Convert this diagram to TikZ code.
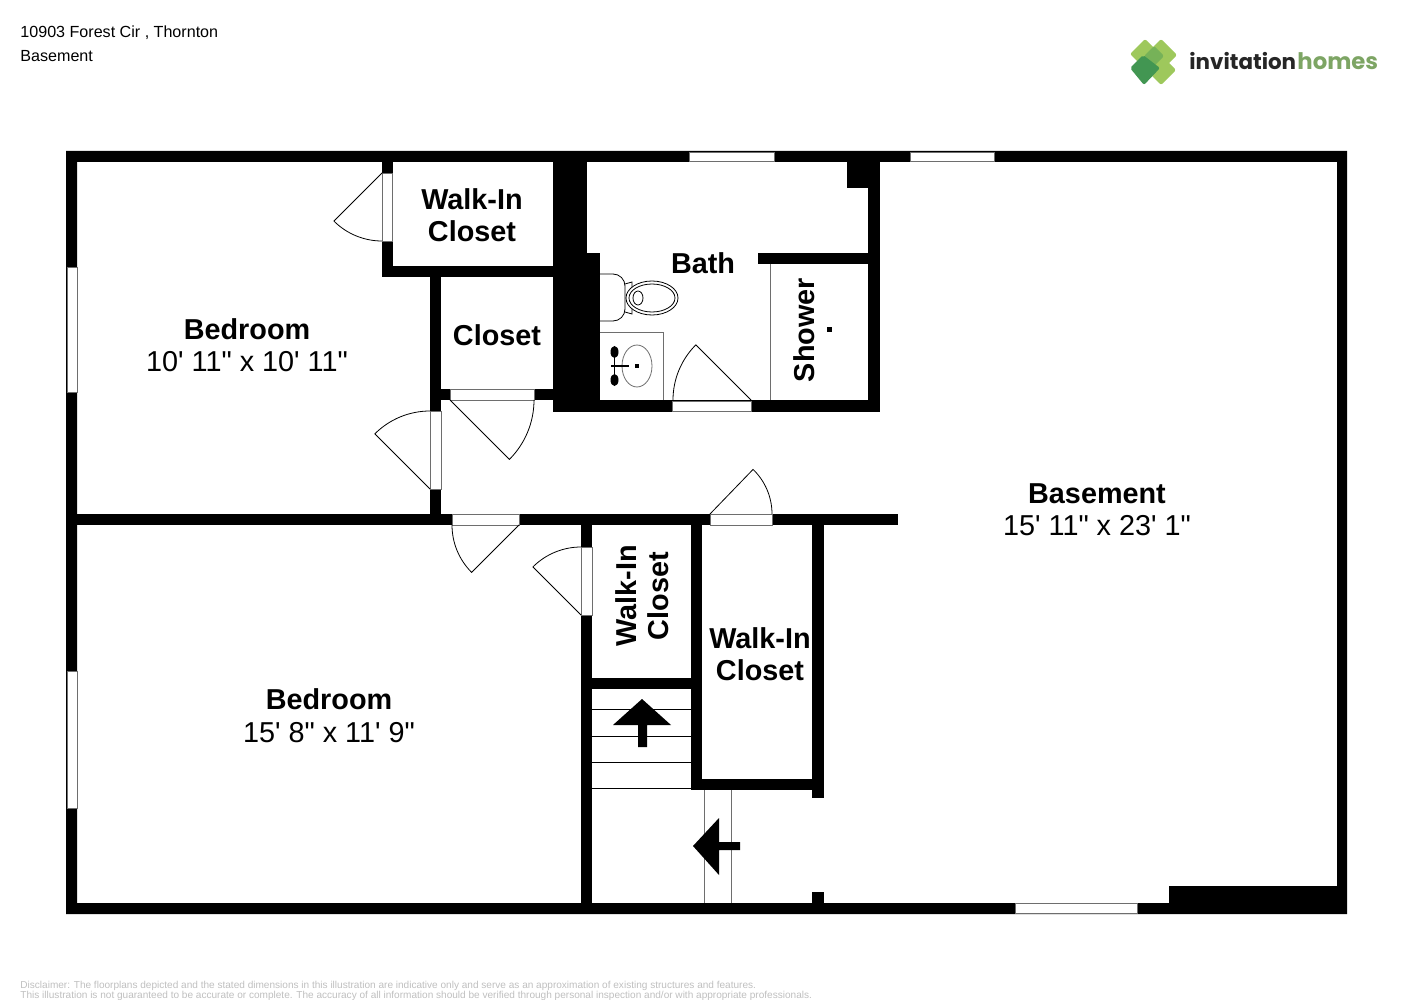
\documentclass[tikz,border=0pt]{standalone}
\usepackage{fontspec}
\newfontfamily\planfont{Liberation Sans}
\newfontfamily\logofont{Poppins}
\definecolor{logolight}{RGB}{158,200,92}
\definecolor{logomid}{RGB}{118,178,88}
\definecolor{logodark}{RGB}{66,150,82}
\definecolor{logotext}{RGB}{125,165,100}
\definecolor{linegray}{RGB}{110,110,110}
\begin{document}
\begin{tikzpicture}[x=0.5pt,y=-0.5pt,
	wall/.style={fill=black},
	opening/.style={draw=linegray,line width=0.4pt,fill=white},
	thinline/.style={draw=black,line width=0.4pt},
	roomname/.style={inner sep=0,align=center,font=\planfont\bfseries\fontsize{14.4}{16}\selectfont},
	roomsize/.style={inner sep=0,font=\planfont\fontsize{14.4}{16}\selectfont},
	pagetext/.style={inner sep=0,anchor=west,font=\planfont\fontsize{8.05}{10}\selectfont},
	smallprint/.style={inner sep=0,anchor=west,text=black!25,font=\planfont\fontsize{5.03}{6}\selectfont},
	logotype/.style={inner sep=0,anchor=base west,font=\logofont\bfseries\fontsize{10.7}{14}\selectfont}]
	\useasboundingbox (0,0) rectangle (1414,1000);
	% outer walls
	\fill[wall,even odd rule] (66,151) rectangle (1347,914) (77,162) rectangle (1337,903);
	% inner walls
	\foreach \xa/\ya/\xb/\yb in {382/162/393/277, 382/266/553/277, 430/277/441/525,
		441/389/553/400, 553/162/587/412, 553/253/600/412, 553/400/880/412,
		868/162/880/412, 847/162/880/188, 758/253/868/264,
		77/514/898/525, 581/525/592/903, 691/525/702/790, 592/678/691/689,
		691/779/812/790, 812/525/824/798, 812/892/824/903, 1169/886/1337/903}{
		\fill[wall] (\xa,\ya) rectangle (\xb,\yb);
	}
	% windows
	\foreach \xa/\ya/\xb/\yb in {689/152/774/161, 910/152/994/161, 1015/903/1137/913,
		67/267/77/392, 67/671/77/808}{
		\draw[opening] (\xa,\ya) rectangle (\xb,\yb);
	}
	% doors: opening, then hinge, leaf angle, end angle, radius
	\foreach \xa/\ya/\xb/\yb/\hx/\hy/\a/\b/\r in {
		382/173/392/241/382/173/135/90/68,
		430/411/441/489/430/489/225/270/78,
		450/389/534/400/450/400/45/0/84,
		452/514/519/525/519/525/135/180/67,
		581/547/592/615/581/615/225/270/68,
		710/514/772/525/710/514/-46/0/62,
		672/401/751/411/751/400/225/180/78}{
		\draw[opening] (\xa,\ya) rectangle (\xb,\yb);
		\draw[thinline] (\hx,\hy) -- ++(\a:\r) arc (\a:\b:\r);
	}
	% stairs
	\foreach \i in {709,736,762,788}{
		\draw[thinline] (592,\i) -- (691,\i);
	}
	\foreach \i in {704,731}{
		\draw[thinline,draw=linegray] (\i,790) -- (\i,903);
	}
	\fill (642,699) -- (671,725) -- (647,725) -- (647,747) -- (638,747) -- (638,725) -- (613,725) -- cycle;
	\fill (693,846) -- (719,818) -- (719,842) -- (740,842) -- (740,850) -- (719,850) -- (719,875) -- cycle;
	% shower
	\draw[thinline,draw=linegray] (770,264) -- (770,400);
	\fill (826.5,327.5) rectangle (831.5,332.5);
	% toilet
	\draw[thinline,fill=white] (625,312) -- (632,314) -- (632,282) -- (625,284);
	\draw[thinline,fill=white,rounded corners=6] (600,274) -- (625,274) -- (625,321) -- (600,321);
	\draw[thinline,fill=white] (652,298) ellipse (26 and 17);
	\draw[thinline] (652,298) ellipse (23 and 14);
	\draw[thinline] (638,298) ellipse (5 and 7);
	% sink
	\draw[thinline,draw=linegray] (600,332) -- (663,332) -- (663,400);
	\draw[thinline,draw=linegray] (637,366) ellipse (15 and 21);
	\fill (635,364) rectangle (639,368);
	\draw[line width=0.7pt] (614.5,352) -- (614.5,380);
	\draw[line width=0.7pt] (611,366) -- (629,366);
	\foreach \i in {352,380}{
		\fill (614.5,\i) ellipse (4 and 6);
	}
	% labels
	\node[roomname] (bedroomone) at (247,329) {Bedroom};
	\node[roomsize] (bedroomonesize) at (247,362) {10' 11" x 10' 11"};
	\node[roomname] (bedroomtwo) at (329,699) {Bedroom};
	\node[roomsize] (bedroomtwosize) at (329,733) {15' 8" x 11' 9"};
	\node[roomname] (basement) at (1097,494) {Basement};
	\node[roomsize] (basementsize) at (1097,526) {15' 11" x 23' 1"};
	\node[roomname] (closetone) at (472,215) {Walk-In\\Closet};
	\node[roomname] (closettwo) at (497,335) {Closet};
	\node[roomname] (bath) at (703,263) {Bath};
	\node[roomname,rotate=90] (shower) at (804,330) {Shower};
	\node[roomname,rotate=90] (closetthree) at (642,596) {Walk-In\\Closet};
	\node[roomname] (closetfour) at (760,654) {Walk-In\\Closet};
	% page texts
	\node[pagetext] (address) at (20,33) {10903 Forest Cir , Thornton};
	\node[pagetext] (level) at (20,56) {Basement};
	\node[smallprint] (disclaimerone) at (20,986) {Disclaimer: The floorplans depicted and the stated dimensions in this illustration are indicative only and serve as an approximation of existing structures and features.};
	\node[smallprint] (disclaimertwo) at (20,996) {This illustration is not guaranteed to be accurate or complete. The accuracy of all information should be verified through personal inspection and/or with appropriate professionals.};
	% logo
	\foreach \x/\y/\s in {1145/54/15,1161/55/16,1161/70/15}{
		\fill[logolight,rounded corners=1pt] (\x,\y-\s) -- (\x+\s,\y) -- (\x,\y+\s) -- (\x-\s,\y) -- cycle;
	}
	\fill[logomid,rounded corners=1pt] (1154,46) -- (1164,56) -- (1154,66) -- (1144,56) -- cycle;
	\fill[logodark,rounded corners=1pt] (1143,55) -- (1160,68) -- (1144,85) -- (1130,68) -- cycle;
	\node[logotype,text=black!85] (logoone) at (1189,70) {invitation};
	\node[logotype,text=logotext,font=\logofont\bfseries\fontsize{11.4}{14}\selectfont] (logotwo) at (1297,70) {homes};
\end{tikzpicture}
\end{document}
